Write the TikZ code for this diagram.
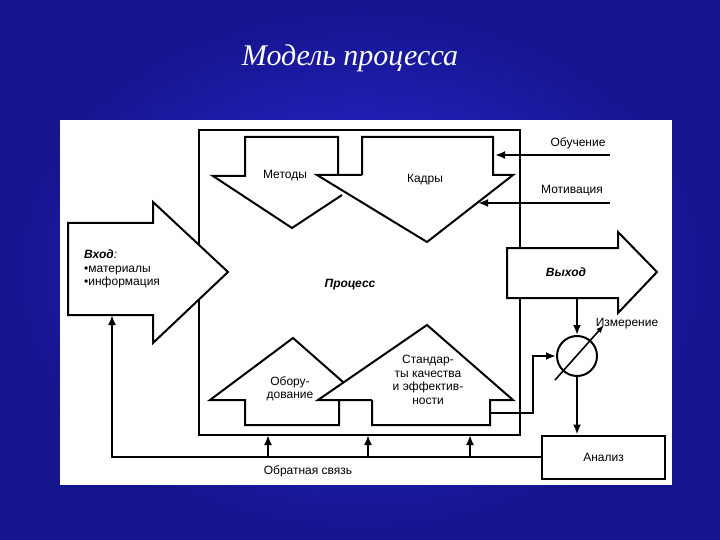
\documentclass[tikz,border=0pt]{standalone}
\usepackage{fontspec}
\setmainfont{Liberation Sans}
\newfontfamily\titlefont{Liberation Serif}
\usetikzlibrary{arrows.meta}
\definecolor{bgin}{RGB}{45,45,225}
\definecolor{bgout}{RGB}{20,20,140}
\begin{document}
\begin{tikzpicture}[x=1pt,y=-1pt,
  ln/.style={line width=2pt,line join=miter},
  arr/.style={line width=2pt,-{Latex[length=10pt,width=8pt]}},
  lbl/.style={font=\fontsize{12}{13.5}\selectfont,align=center,inner sep=0pt}]
\useasboundingbox (0,0) rectangle (720,540);
\shade[inner color=bgin,outer color=bgout] (0,0) rectangle (720,540);
\node[font=\titlefont\itshape\fontsize{30}{32}\selectfont,text=white] (title) at (350,58) {Модель процесса};
\fill[white] (60,120) rectangle (672,485);
% process box
\draw[ln] (520,248) -- (520,130) -- (199,130) -- (199,435) -- (520,435) -- (520,298);
% Methods
\draw[ln] (342,195) -- (292,228) -- (213,176) -- (245,176) -- (245,137) -- (338,137) -- (338,176);
% Kadry
\draw[ln] (362,175) -- (362,137) -- (493,137) -- (493,175) -- (513,175) -- (427,242) -- (317,175) -- (362,175);
\node[lbl] (metody) at (285,176) {Методы};
\node[lbl] (kadry) at (425,180) {Кадры};
% Oborudovanie
\draw[ln] (343,382) -- (293,338) -- (210,400) -- (245,400) -- (245,425) -- (339,425) -- (339,400);
% Standards
\draw[ln] (372,400) -- (372,425) -- (490,425) -- (490,400) -- (513,400) -- (427,325) -- (318,400) -- (372,400);
\node[lbl] (obor) at (290,389) {Обору-\\дование};
\node[lbl] (stand) at (428,380) {Стандар-\\ты качества\\и эффектив-\\ности};
% Input arrow
\draw[ln,fill=white] (68,223) -- (153,223) -- (153,202) -- (228,272) -- (153,343) -- (153,315) -- (68,315) -- cycle;
\node[lbl,align=left,anchor=west] (vhod) at (84,269) {\textit{\textbf{Вход}:}\\•материалы\\•информация};
% Output arrow
\draw[ln,fill=white] (507,248) -- (618,248) -- (618,232) -- (657,272) -- (618,313) -- (618,298) -- (507,298) -- cycle;
\node[lbl] (vyhod) at (566,272) {\textit{\textbf{Выход}}};
\node[lbl] (proc) at (350,285) {\textit{\textbf{Процесс}}};
% inputs on right
\coordinate (ob1) at (610,155); \coordinate (ob2) at (495,155);
\coordinate (mo1) at (610,203); \coordinate (mo2) at (478,203);
\draw[arr] (ob1) -- (ob2);
\draw[arr] (mo1) -- (mo2);
\node[lbl] (obuch) at (578,143) {Обучение};
\node[lbl] (motiv) at (572,191) {Мотивация};
% Measurement
\node[circle,draw,line width=2pt,minimum size=40pt,inner sep=0pt] (meas) at (577,356) {};
\draw[arr] (577,298) -- (meas.north);
\draw[line width=1.6pt,-{Latex[length=8pt,width=6pt]}] (555,380) -- (604,325);
\node[lbl] (izm) at (627,324) {Измерение};
\draw[arr] (490,413) -- (533,413) -- (533,356) -- (meas.west);
% Analysis
\node[draw,line width=2pt,minimum width=123pt,minimum height=43pt,font=\fontsize{12}{13}\selectfont] (anal) at (603.5,457) {Анализ};
\draw[arr] (meas.south) -- (anal.north -| meas);
% Feedback
\draw[arr] (anal.west) -- (112,457) -- (112,315);
\draw[arr] (268,457) -- (268,435);
\draw[arr] (368,457) -- (368,435);
\draw[arr] (470,457) -- (470,435);
\node[lbl] (fb) at (308,471) {Обратная связь};
\end{tikzpicture}
\end{document}
